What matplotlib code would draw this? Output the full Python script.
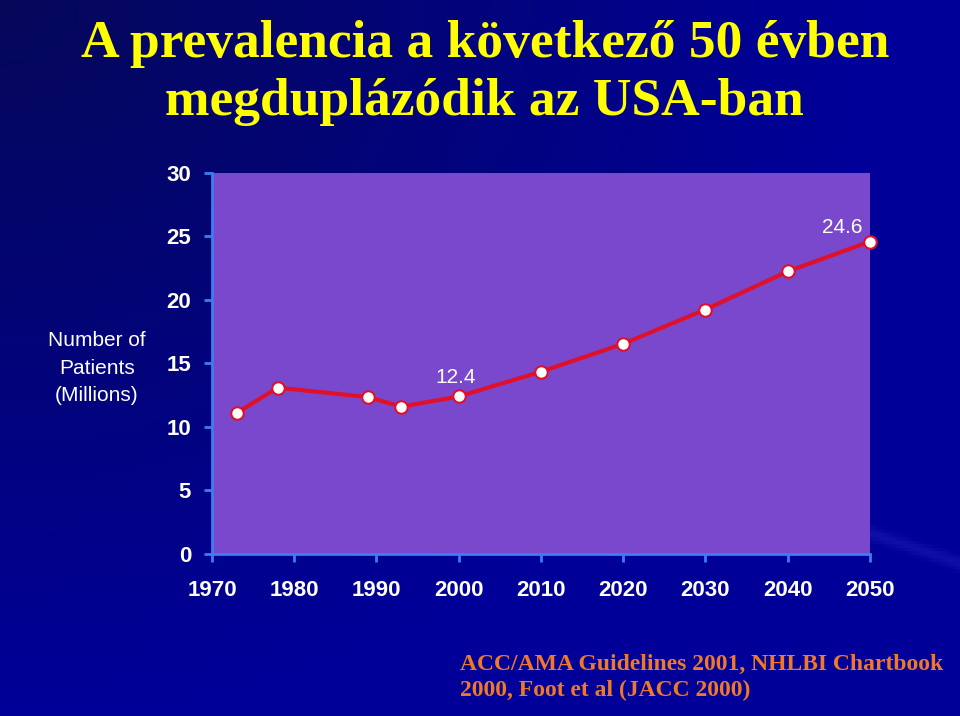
import numpy as np
import matplotlib.pyplot as plt

# adatok (millió beteg)
years = [1973, 1978, 1989, 1993, 2000, 2010, 2020, 2030, 2040, 2050]
patients = [11.1, 13.1, 12.35, 11.6, 12.4, 14.35, 16.55, 19.25, 22.25, 24.6]
labelled = {2000: '12.4', 2050: '24.6'}
xticks = [1970, 1980, 1990, 2000, 2010, 2020, 2030, 2040, 2050]
yticks = [0, 5, 10, 15, 20, 25, 30]

fig = plt.figure(figsize=(9.6, 7.16), dpi=100)
fig.patch.set_facecolor('#00009a')

# háttér: sötétkék színátmenet, bal felül sötétebb
bg = fig.add_axes([0, 0, 1, 1], zorder=-10)
yy, xx = np.mgrid[0:1:200j, 0:1:260j]
dark = np.clip(1.0 - 1.1 * np.hypot(xx, yy * 0.9), 0, 1)
streak = 0.06 * np.exp(-((yy - 0.72 - 0.45 * (xx - 0.85)) / 0.01) ** 2) * (xx > 0.8)
img = np.zeros(yy.shape + (3,))
img[..., 0] = 0.02 * dark + streak
img[..., 1] = 0.03 * dark + streak
img[..., 2] = 0.60 - 0.25 * dark + streak
bg.imshow(np.clip(img, 0, 1), extent=[0, 1, 0, 1], aspect='auto', origin='upper')
bg.axis('off')

ax = fig.add_axes([0.2208, 0.2263, 0.6854, 0.5321])
ax.set_facecolor('#7a48cc')
ax.plot(years, patients, color='#e0102a', lw=3, marker='o', markersize=9,
        markerfacecolor='white', markeredgecolor='#e0102a', markeredgewidth=1.5,
        clip_on=False, zorder=3)

for x, y in zip(years, patients):
    if x in labelled:
        dx, dy = (-20, 3) if x == 2050 else (-2, 7)
        ax.annotate(labelled[x], (x, y), xytext=(dx, dy), textcoords='offset points',
                    ha='center', va='bottom', color='white', fontsize=15,
                    family='Liberation Sans')

ax.set_xlim(1970, 2050)
ax.set_ylim(0, 30)
ax.set_xticks(xticks)
ax.set_yticks(yticks)
for side in ['top', 'right']:
    ax.spines[side].set_visible(False)
for side in ['left', 'bottom']:
    ax.spines[side].set_color('#3f7cf0')
    ax.spines[side].set_linewidth(2)
ax.tick_params(axis='both', colors='#3f7cf0', width=2, length=6)
ax.tick_params(axis='x', pad=13)
ax.tick_params(axis='y', pad=9)
for lbl in ax.get_xticklabels() + ax.get_yticklabels():
    lbl.set_color('white')
    lbl.set_fontsize(16)
    lbl.set_fontweight('bold')
    lbl.set_family('Liberation Sans')

fig.text(0.101, 0.486, 'Number of\nPatients\n(Millions)', ha='center', va='center',
         color='white', fontsize=15, linespacing=1.55, family='Liberation Sans')

fig.text(0.505, 0.938, 'A prevalencia a következő 50 évben', ha='center', va='center',
         color='#ffff00', fontsize=38.5, fontweight='bold', family='Liberation Serif')
fig.text(0.505, 0.857, 'megduplázódik az USA-ban', ha='center', va='center',
         color='#ffff00', fontsize=38.5, fontweight='bold', family='Liberation Serif')

fig.text(0.479, 0.054, 'ACC/AMA Guidelines 2001, NHLBI Chartbook\n2000, Foot et al (JACC 2000)',
         ha='left', va='center', color='#f07828', fontsize=17, fontweight='bold',
         linespacing=1.27, family='Liberation Serif')

fig.savefig('out.png', dpi=100, facecolor=fig.get_facecolor())
